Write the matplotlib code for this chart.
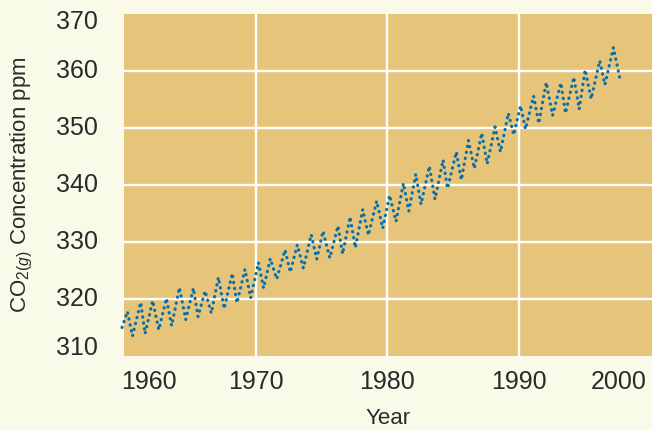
import matplotlib
matplotlib.use('Agg')
import matplotlib.pyplot as plt

# maximos e minimos sazonais da concentracao de CO2 (ano, ppm)
anos = [1959.85, 1960.26, 1960.64, 1961.27, 1961.60, 1962.18, 1962.64, 1963.22, 1963.62,
        1964.21, 1964.69, 1965.27, 1965.62, 1966.16, 1966.63, 1967.17, 1967.61, 1968.22,
        1968.58, 1969.19, 1969.62, 1970.21, 1970.60, 1971.11, 1971.60, 1972.23, 1972.63,
        1973.16, 1973.62, 1974.22, 1974.64, 1975.11, 1975.63, 1976.25, 1976.60, 1977.17,
        1977.57, 1978.13, 1978.56, 1979.19, 1979.65, 1980.17, 1980.66, 1981.22, 1981.63,
        1982.16, 1982.56, 1983.19, 1983.62, 1984.23, 1984.57, 1985.24, 1985.62, 1986.16,
        1986.61, 1987.17, 1987.58, 1988.18, 1988.59, 1989.19, 1989.60, 1990.12, 1990.49,
        1991.11, 1991.50, 1992.07, 1992.55, 1993.18, 1993.53, 1994.16, 1994.57, 1995.02,
        1995.48, 1996.13, 1996.52, 1997.17, 1997.64]
concentracao = [315.0, 317.8, 313.5, 319.4, 313.9, 319.7, 314.6, 320.1, 315.3,
                322.0, 316.4, 321.9, 316.9, 321.4, 317.5, 323.8, 318.3, 324.5,
                319.3, 325.2, 320.2, 326.4, 321.9, 327.1, 323.5, 328.6, 324.7,
                329.5, 325.4, 331.3, 327.0, 331.9, 327.2, 332.8, 327.9, 334.4,
                329.0, 335.7, 331.2, 337.2, 332.4, 338.2, 333.6, 340.3, 335.4,
                341.9, 336.6, 343.3, 337.5, 344.4, 339.4, 345.8, 340.9, 347.8,
                342.9, 349.1, 343.7, 350.2, 345.8, 352.6, 348.8, 353.9, 349.8,
                355.6, 350.8, 358.0, 352.2, 357.9, 352.6, 358.9, 353.3, 360.2,
                355.1, 361.8, 357.6, 364.1, 358.9]

ticks_x = [1960, 1970, 1980, 1990, 2000]
ticks_y = [310, 320, 330, 340, 350, 360, 370]

cor_fundo = '#f9fbe8'
cor_painel = '#e6c57b'
cor_texto = '#2a2a2a'
cor_linha = '#0b6fa6'

plt.rcParams['font.family'] = ['Liberation Sans', 'DejaVu Sans']
plt.rcParams['mathtext.fontset'] = 'custom'
plt.rcParams['mathtext.rm'] = 'Liberation Sans'
plt.rcParams['mathtext.it'] = 'Liberation Sans:italic'

fig = plt.figure(figsize=(6.52, 4.30), dpi=100, facecolor=cor_fundo)
ax = fig.add_axes([124 / 652, 1 - 356 / 430, 528 / 652, 342 / 430])
ax.set_facecolor(cor_painel)
ax.set_xlim(1960, 2000.1)
ax.set_ylim(310, 370)
for s in ax.spines.values():
    s.set_visible(False)

# grelha branca so nas linhas interiores
for x in ticks_x[1:-1]:
    ax.axvline(x, color='white', lw=1.7, zorder=1)
for y in ticks_y[1:-1]:
    ax.axhline(y, color='white', lw=1.7, zorder=1)

# linha pontilhada
ax.plot(anos, concentracao, color=cor_linha, lw=2.3, linestyle=(0, (0.1, 1.8)),
        dash_capstyle='round', zorder=3, clip_on=False)

ax.set_xticks([])
ax.set_yticks([])

# rotulos dos eixos; os das pontas ficam puxados para dentro
for i, x in enumerate(ticks_x):
    dx = 0
    if i == 0:
        dx = 18
    elif i == len(ticks_x) - 1:
        dx = -23
    ax.annotate(str(x), xy=(x, 0), xycoords=('data', 'axes fraction'),
                xytext=(dx, -10), textcoords='offset points',
                ha='center', va='top', fontsize=18, color=cor_texto)

for i, y in enumerate(ticks_y):
    dy = 0
    if i == 0:
        dy = 6
    elif i == len(ticks_y) - 1:
        dy = -6
    ax.annotate(str(y), xy=(0, y), xycoords=('axes fraction', 'data'),
                xytext=(-19, dy), textcoords='offset points',
                ha='right', va='center', fontsize=18, color=cor_texto)

fig.text(388 / 652, 1 - 418 / 430, 'Year', ha='center', va='center',
         fontsize=16, color=cor_texto)
fig.text(22 / 652, 1 - 185 / 430, r'CO$_{2(g)}$ Concentration ppm', rotation=90,
         ha='center', va='center', fontsize=16, color=cor_texto)

fig.savefig('out.png', dpi=100, facecolor=cor_fundo)
